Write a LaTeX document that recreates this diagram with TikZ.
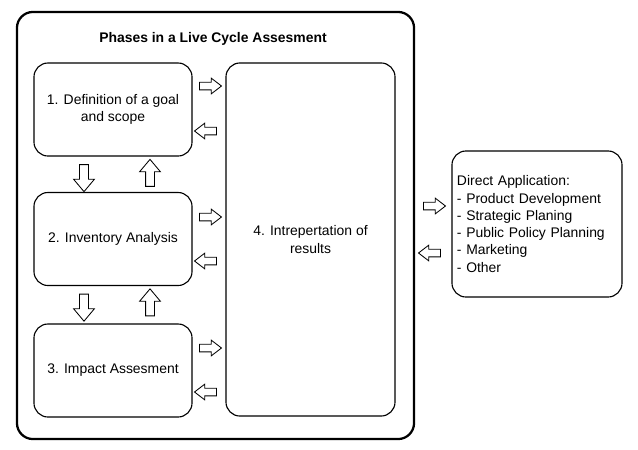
\documentclass[tikz,border=0pt]{standalone}
\usepackage{fontspec}
\setmainfont{Liberation Sans}
\usetikzlibrary{shapes.arrows}

\begin{document}
\begin{tikzpicture}[
    x=0.025cm, y=-0.025cm,
    phase/.style={
        rectangle,
        rounded corners=0.35cm,
        draw=black,
        line width=0.8pt,
        minimum width=3.95cm,
        minimum height=2.325cm,
        align=center,
        font=\fontsize{9.9}{12.6}\selectfont
    },
    harr/.style={
        single arrow,
        draw=black,
        line width=0.6pt,
        fill=white,
        inner sep=0.085cm,
        minimum height=0.55cm,
        single arrow head extend=0.1cm,
        single arrow tip angle=75
    },
    varr/.style={
        harr,
        inner sep=0.1cm,
        minimum height=0.675cm,
        single arrow head extend=0.15cm,
        single arrow tip angle=80
    }
]
\useasboundingbox (0,0) rectangle (638,449);

% Frame
\node[draw=black, line width=1.6pt, rounded corners=0.4cm,
      minimum width=9.925cm, minimum height=10.675cm] (lca) at (215.5,225.5) {};

% Title
\node[font=\fontsize{9.9}{12}\selectfont\bfseries] (title) at (213,39) {Phases in a Live Cycle Assesment};

% Phases
\node[phase] (goal) at (113,109.5) {1. Definition of a goal\\and scope};
\node[phase] (inv) at (113,239) {2. Inventory Analysis};
\node[phase] (impact) at (113,370.5) {3. Impact Assesment};
\node[phase, minimum width=4.225cm, minimum height=8.825cm] (interp) at (310.5,239.5) {4. Intrepertation of\\results};

% Applications
\node[phase, minimum width=4.25cm, minimum height=3.65cm, text width=4cm,
      inner xsep=0.125cm, align=left, font=\fontsize{9.9}{12.3}\selectfont] (app) at (537,224)
    {Direct Application:\\- Product Development\\- Strategic Planing\\- Public Policy Planning\\- Marketing\\- Other};

% Arrows to and from interpretation
\node[harr] (goal-r) at (208,86) {};
\node[harr, shape border rotate=180] (goal-l) at (208,131) {};
\node[harr] (inv-r) at (208,217) {};
\node[harr, shape border rotate=180] (inv-l) at (208,261) {};
\node[harr] (impact-r) at (208,348) {};
\node[harr, shape border rotate=180] (impact-l) at (208,392) {};

% Arrows between phases
\node[varr, shape border rotate=270] (goal-d) at (84,175.5) {};
\node[varr, shape border rotate=90] (inv-u) at (150,175.5) {};
\node[varr, shape border rotate=270] (inv-d) at (84,305) {};
\node[varr, shape border rotate=90] (impact-u) at (150,305) {};

% Arrows to and from applications
\node[harr] (app-r) at (432,206) {};
\node[harr, shape border rotate=180] (app-l) at (432,253) {};

\end{tikzpicture}
\end{document}
